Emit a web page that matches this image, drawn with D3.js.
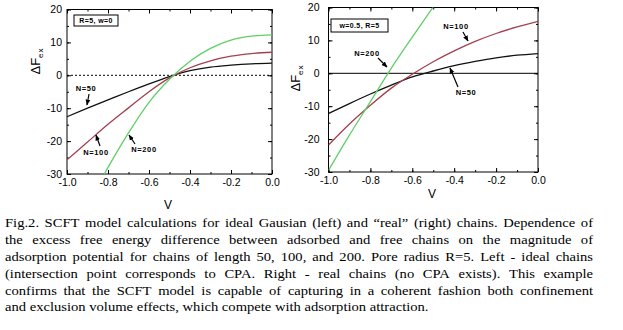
<!doctype html>
<html>
<head>
<meta charset="UTF-8">
<script src="https://d3js.org/d3.v7.min.js"></script>
<style>
  body { margin: 0; background: #fff; }
  svg { display: block; }
  .tick text { font-family: "Liberation Sans", Arial, sans-serif; font-size: 10.5px; }
  .tick line, .domain { stroke: #000; }
  .note { font-family: "Liberation Sans", Arial, sans-serif; font-size: 7.5px; font-weight: bold; letter-spacing: 0.6px; }
  svg text.cap { font-family: "Liberation Serif", "Times New Roman", Times, serif; font-size: 13.5px; }
</style>
</head>
<body>
<svg id="fig"></svg>
<script>
// values (V -> excess free energy)
const vGrid = [-1.0, -0.9, -0.8, -0.7, -0.6, -0.5, -0.4, -0.3, -0.2, -0.1, 0.0];

// left panel, ideal chains (R=5, w=0)
const leftN50 = [-12.6, -10.0, -7.5, -5.0, -2.6, -0.4, 1.4, 2.5, 3.1, 3.5, 3.7];
const leftN100 = [-25.7, -20.3, -14.9, -9.9, -5.0, -0.8, 2.3, 4.4, 5.8, 6.6, 7.0];
const leftV200 = [-0.82, -0.8, -0.7, -0.6, -0.5, -0.4, -0.3, -0.2, -0.1, 0.0];
const leftN200 = [-30.2, -28.0, -17.5, -8.2, -1.2, 4.3, 8.2, 10.7, 11.9, 12.3];

// right panel, real chains (w=0.5, R=5)
const rightN50 = [-12.2, -9.2, -6.3, -3.6, -1.1, 0.7, 2.3, 3.6, 4.7, 5.5, 6.0];
const rightN100 = [-21.8, -15.4, -9.7, -4.5, -0.3, 3.5, 6.8, 9.7, 12.1, 14.1, 15.8];
const rightV200 = [-1.0, -0.9, -0.8, -0.7, -0.6, -0.5];
const rightN200 = [-29.5, -18.8, -8.6, 1.6, 11.0, 20.2];

const xTicks = [-1.0, -0.8, -0.6, -0.4, -0.2, 0.0];
const yTicks = [20, 10, 0, -10, -20, -30];

const captionLines = [
  "Fig.2. SCFT model calculations for ideal Gausian (left) and \u201creal\u201d (right) chains. Dependence of",
  "the excess free energy difference between adsorbed and free chains on the magnitude of",
  "adsorption potential for chains of length 50, 100, and 200. Pore radius R=5. Left - ideal chains",
  "(intersection point corresponds to CPA. Right - real chains (no CPA exists). This example",
  "confirms that the SCFT model is capable of capturing in a coherent fashion both confinement",
  "and exclusion volume effects, which compete with adsorption attraction."
];

const black = "#111", red = "#a3404f", green = "#5fcf66";

(function(){
  const W = 623, H = 330;
  const svg = d3.select("#fig").attr("width", W).attr("height", H);

  svg.append("defs").append("marker")
      .attr("id", "arr")
      .attr("viewBox", "0 0 10 10")
      .attr("refX", 9).attr("refY", 5)
      .attr("markerWidth", 5).attr("markerHeight", 5)
      .attr("orient", "auto")
    .append("path")
      .attr("d", "M0,1 L10,5 L0,9 Z")
      .attr("fill", "#000");

  function panel(cfg){
    let x = d3.scaleLinear().domain([-1, 0]).range([cfg.x0, cfg.x1]);
    let y = d3.scaleLinear().domain([-30, 20]).range([cfg.y1, cfg.y0]);
    let g = svg.append("g");

    g.append("clipPath").attr("id", cfg.id)
      .append("rect")
        .attr("x", cfg.x0).attr("y", cfg.y0)
        .attr("width", cfg.x1 - cfg.x0).attr("height", cfg.y1 - cfg.y0);

    // zero line
    g.append("line")
      .attr("x1", cfg.x0).attr("x2", cfg.x1)
      .attr("y1", y(0)).attr("y2", y(0))
      .attr("stroke", "#000")
      .attr("stroke-width", 1)
      .attr("stroke-dasharray", cfg.dashZero ? "2,2" : null);

    // minor ticks
    let minorX = d3.range(-1, 0.001, 0.1);
    let minorY = d3.range(-30, 20.1, 5);
    g.append("g").attr("transform", "translate(0," + cfg.y1 + ")")
      .call(d3.axisBottom(x).tickValues(minorX).tickSizeInner(-2).tickSizeOuter(0).tickFormat(""));
    g.append("g").attr("transform", "translate(0," + cfg.y0 + ")")
      .call(d3.axisTop(x).tickValues(minorX).tickSizeInner(-2).tickSizeOuter(0).tickFormat(""));
    g.append("g").attr("transform", "translate(" + cfg.x0 + ",0)")
      .call(d3.axisLeft(y).tickValues(minorY).tickSizeInner(-2).tickSizeOuter(0).tickFormat(""));
    g.append("g").attr("transform", "translate(" + cfg.x1 + ",0)")
      .call(d3.axisRight(y).tickValues(minorY).tickSizeInner(-2).tickSizeOuter(0).tickFormat(""));

    // major ticks + labels
    g.append("g").attr("transform", "translate(0," + cfg.y1 + ")")
      .call(d3.axisBottom(x).tickValues(xTicks).tickSizeInner(-4).tickSizeOuter(0)
              .tickPadding(5).tickFormat(d3.format(".1f")));
    g.append("g").attr("transform", "translate(0," + cfg.y0 + ")")
      .call(d3.axisTop(x).tickValues(xTicks).tickSizeInner(-4).tickSizeOuter(0).tickFormat(""));
    g.append("g").attr("transform", "translate(" + cfg.x0 + ",0)")
      .call(d3.axisLeft(y).tickValues(yTicks).tickSizeInner(-4).tickSizeOuter(0)
              .tickPadding(cfg.yPad).tickFormat(d3.format("d")));
    g.append("g").attr("transform", "translate(" + cfg.x1 + ",0)")
      .call(d3.axisRight(y).tickValues(yTicks).tickSizeInner(-4).tickSizeOuter(0).tickFormat(""));
    g.selectAll(".domain").remove();
    g.selectAll(".tick text").text(function(){ return this.textContent.replace("\u2212", "-"); });

    // frame
    g.append("rect")
      .attr("x", cfg.x0).attr("y", cfg.y0)
      .attr("width", cfg.x1 - cfg.x0).attr("height", cfg.y1 - cfg.y0)
      .attr("fill", "none").attr("stroke", "#000").attr("stroke-width", 1);

    // curves
    let line = d3.line()
      .x(d => x(d[0])).y(d => y(d[1]))
      .curve(d3.curveMonotoneX);
    cfg.series.forEach(function(s){
      g.append("path")
        .datum(d3.zip(s.v, s.f))
        .attr("clip-path", "url(#" + cfg.id + ")")
        .attr("fill", "none")
        .attr("stroke", s.color)
        .attr("stroke-width", 1.3)
        .attr("d", line);
    });

    // box label
    let bx = g.append("g");
    bx.append("rect")
      .attr("x", cfg.box[0]).attr("y", cfg.box[1])
      .attr("width", cfg.box[2]).attr("height", cfg.box[3])
      .attr("fill", "#fff").attr("stroke", "#000").attr("stroke-width", 1);
    bx.append("text").attr("class", "note")
      .attr("x", cfg.box[0] + cfg.box[2] / 2)
      .attr("y", cfg.box[1] + cfg.box[3] / 2 + 2.7)
      .attr("text-anchor", "middle")
      .style("font-size", "7px")
      .style("letter-spacing", "0.4px")
      .text(cfg.boxText);

    // N= annotations with arrows
    cfg.notes.forEach(function(n){
      g.append("text").attr("class", "note")
        .attr("x", n.tx).attr("y", n.ty)
        .attr("text-anchor", "middle")
        .text(n.text);
      g.append("line")
        .attr("x1", n.a[0]).attr("y1", n.a[1])
        .attr("x2", n.a[2]).attr("y2", n.a[3])
        .attr("stroke", "#000").attr("stroke-width", 1.2)
        .attr("marker-end", "url(#arr)");
    });

    // y label
    let yl = g.append("text")
      .attr("transform", "translate(" + cfg.ylab[0] + "," + cfg.ylab[1] + ") rotate(-90)")
      .attr("text-anchor", "middle")
      .style("font-family", "'Liberation Sans', Arial, sans-serif")
      .style("font-size", "13px");
    yl.append("tspan").text("\u0394F");
    yl.append("tspan").attr("dy", "0.35em").style("font-size", "8px")
      .style("letter-spacing", "1px").text("ex");

    // x label
    g.append("text")
      .attr("x", cfg.xlab[0]).attr("y", cfg.xlab[1])
      .attr("text-anchor", "middle")
      .style("font-family", "'Liberation Sans', Arial, sans-serif")
      .style("font-size", "12px")
      .text("V");
  }

  panel({
    id: "clipL", x0: 67, x1: 272, y0: 9.5, y1: 174, dashZero: true, yPad: 5,
    series: [
      {v: vGrid, f: leftN50, color: black},
      {v: vGrid, f: leftN100, color: red},
      {v: leftV200, f: leftN200, color: green}
    ],
    box: [74, 15, 44, 11], boxText: "R=5, w=0",
    notes: [
      {text: "N=50", tx: 86, ty: 91, a: [89, 94, 87, 105]},
      {text: "N=100", tx: 96, ty: 155, a: [100, 146, 96, 135]},
      {text: "N=200", tx: 144, ty: 152, a: [135, 144, 129, 135]}
    ],
    ylab: [40, 61], xlab: [168, 209]
  });

  panel({
    id: "clipR", x0: 328.5, x1: 538, y0: 7.5, y1: 172, dashZero: false, yPad: 9,
    series: [
      {v: vGrid, f: rightN50, color: black},
      {v: vGrid, f: rightN100, color: red},
      {v: rightV200, f: rightN200, color: green}
    ],
    box: [331, 19, 57, 13], boxText: "w=0.5, R=5",
    notes: [
      {text: "N=100", tx: 456, ty: 29, a: [463, 32, 468, 41]},
      {text: "N=200", tx: 367, ty: 56, a: [378, 58, 387, 67]},
      {text: "N=50", tx: 466, ty: 95, a: [458, 87, 450, 68]}
    ],
    ylab: [300, 78], xlab: [432, 198]
  });

  // caption, justified by hand
  let cap = svg.append("g");
  function capText(s){
    return cap.append("text").attr("class", "cap")
      .attr("font-family", "Liberation Serif, Times New Roman, serif")
      .text(s);
  }
  let probe = capText(captionLines[captionLines.length - 1]);
  let natural = probe.node().getComputedTextLength();
  probe.remove();
  let sx = 424 / natural;
  let fullW = 588 / sx;
  cap.attr("transform", "translate(5,0) scale(" + sx + ",1)");

  captionLines.forEach(function(txt, i){
    let yb = 227.5 + i * 16.8;
    if (i === captionLines.length - 1) {
      capText(txt).attr("x", 0).attr("y", yb);
      return;
    }
    let words = txt.split(" ");
    let widths = words.map(function(w){
      let t = capText(w);
      let l = t.node().getComputedTextLength();
      t.remove();
      return l;
    });
    let gap = (fullW - d3.sum(widths)) / (words.length - 1);
    let xp = 0;
    words.forEach(function(w, k){
      capText(w).attr("x", xp).attr("y", yb);
      xp += widths[k] + gap;
    });
  });
})();
</script>
</body>
</html>
